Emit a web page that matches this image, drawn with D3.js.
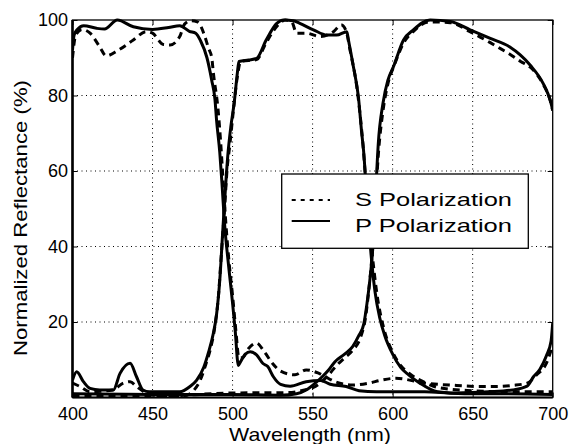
<!DOCTYPE html>
<html>
<head>
<meta charset="utf-8">
<script src="https://cdn.jsdelivr.net/npm/d3@7"></script>
<style>
  html, body { margin: 0; padding: 0; background: #fff; }
  svg { display: block; font-family: "Liberation Sans", Arial, Helvetica, sans-serif; }
</style>
</head>
<body>
<div id="chart"></div>
<script>
/* Reflectance of three bands (blue / green / red), S and P polarization.
   Values as [wavelength nm, reflectance %]. */
const xTicks = [400, 450, 500, 550, 600, 650, 700];
const yTicks = [20, 40, 60, 80, 100];

const blueP = [[400,92],[401,96],[403,97.5],[407,98.5],[415,97.8],[420,97.6],[428,100],[438,98.2],[450,97.5],[460,98],[467,98.5],[473,97],[477,96.5],[480,94.5],[484,90],[487,84],[489,79],[490,73.5],[492,65],[493.5,56],[495,46],[497,37],[498.5,31],[500,25],[501.6,18],[503.6,8.5],[505,9.5],[508,11.5],[511,12.1],[515,11.3],[519,9],[522,8.2],[525.5,5.5],[530,3.5],[536,3],[546,4.2],[555,4.5],[561,3.5],[571,2.9],[579,1.8],[590,1.5],[602,1.5],[620,1.5],[640,1.2],[660,1.5],[675,2],[684,3],[688,5.5],[692,7.5],[696,11],[699,15],[700,19.7]];
const blueS = [[400,90],[402,96],[406,97.5],[411,96.5],[417,92.9],[421,90.5],[428.6,92],[438,94.7],[446,96.9],[450,96.5],[456.8,93.5],[461,93.4],[467,95.6],[470,98.9],[474,99.8],[478,99.5],[480,98.5],[482,96.5],[485,92.5],[487,90],[488,86],[491,76],[492.5,68],[494,58],[496,45],[498,35],[500,27],[502,18],[504,10.5],[506,10.5],[510,13],[515,14.4],[520,12],[525,9],[530,7],[539,6],[546,7.3],[554,6.4],[564,4.2],[575,3.3],[585,3.8],[593,4.6],[602,5.1],[620,3.8],[640,3.2],[655,2.9],[665,2.9],[675,3.2],[684,3.8],[690,6],[696.5,9.5],[700,14]];
const greenP = [[400,4.6],[402.6,6.8],[406.8,4.2],[411,2.4],[417,2],[425.5,2],[429.7,6.4],[436,9.1],[440,5.5],[444,2],[448,1.5],[467,1.5],[473.4,2.9],[477.6,4.6],[482,8],[485,12],[488,17],[490,22],[492,31],[494,45],[495.5,55],[497,64],[499,72],[501,78],[503,86],[504,89],[510,89.4],[515,89.8],[521,94.7],[527.6,99.1],[532,100],[538,99.8],[542,99.1],[550.5,97.4],[559,96],[565,96],[571.4,96.9],[572.4,94.7],[575.5,87.6],[578.6,79.7],[580.7,70],[581.8,65.6],[584,52],[586.5,38],[589,28],[592,21],[595,16.5],[600,11.5],[605,8],[610,6],[617,3.8],[628,1.5],[645,1],[670,1],[700,0.8]];
const greenS = [[400,3.8],[404.7,2.9],[411,1.5],[425,2],[431.8,3.8],[436,4.2],[440,2.9],[446.7,1.1],[455,0.5],[470,0.5],[476,2],[480.7,5.5],[483.8,9.5],[486,12.6],[489,19],[491,26],[493,38],[495,50],[496.5,60],[498.4,67.3],[500.5,76],[503,85],[505,89],[515,89.5],[521,94],[528,98.5],[533,100],[537,99.5],[540,96.5],[546,96.5],[554.7,95.6],[563,96.9],[568,98.7],[571,97],[573.4,92],[577.6,82.3],[581.4,67.3],[584,53],[587,39],[590,28],[595,17.5],[600,12],[605,8.5],[610,6.5],[620,4],[630,2.5],[650,1.8],[675,1.5],[700,1.5]];
const redP = [[400,1],[450,0.8],[500,0.8],[530,0.6],[540,1],[546,2],[551.6,3.8],[556,5.5],[560,7.3],[564,9.5],[570,11.5],[575,13.5],[579,16.5],[582,19.5],[584,25],[586,32],[588,42],[589.5,55],[591,67],[594,78],[597,84],[600.5,87.6],[606.8,94.7],[613,97.4],[623.4,100],[636,99.6],[648.4,97.4],[661,95.1],[673,92.9],[686,88],[694,83.2],[698.4,78.8],[700,76.2]];
const redS = [[400,0.5],[450,0.3],[500,1.2],[535,1.3],[545,2],[552,3],[560,6],[565,8.5],[570,10.5],[575,12.5],[580,16],[583,21],[585,28],[587,37],[589,50],[591,64],[594,76],[597,83],[601,88],[607,94],[613,97],[623,99.5],[636,99.3],[648,97],[661,94],[665,93],[673,91],[680,89],[686,87.5],[694,83],[698.4,78.8],[700,76]];

const legendLabels = ["S Polarization", "P Polarization"];

function drawChart() {
  const fullW = 571, fullH = 444;
  const margin = { top: 20, right: 18.3, bottom: 46.5, left: 72.5 };
  const w = fullW - margin.left - margin.right;
  const h = fullH - margin.top - margin.bottom;

  const svg = d3.select("#chart").append("svg")
    .attr("width", fullW).attr("height", fullH);

  const g = svg.append("g")
    .attr("transform", `translate(${margin.left},${margin.top})`);

  /* Scales */
  const x = d3.scaleLinear().domain([400, 700]).range([0, w]);
  const y = d3.scaleLinear().domain([0, 100]).range([h, 0]);

  /* Dotted grid */
  g.append("g").selectAll("line")
    .data(xTicks.slice(1, -1))
    .join("line")
      .attr("x1", d => x(d)).attr("x2", d => x(d))
      .attr("y1", 0).attr("y2", h)
      .attr("stroke", "#000").attr("stroke-width", 1)
      .attr("stroke-dasharray", "1,3.5");
  g.append("g").selectAll("line")
    .data(yTicks.slice(0, -1))
    .join("line")
      .attr("x1", 0).attr("x2", w)
      .attr("y1", d => y(d)).attr("y2", d => y(d))
      .attr("stroke", "#000").attr("stroke-width", 1)
      .attr("stroke-dasharray", "1,3.5");

  /* Curves */
  g.append("clipPath").attr("id", "plot-clip")
    .append("rect").attr("x", 0).attr("y", -2).attr("width", w).attr("height", h + 2);

  const line = d3.line()
    .x(d => x(d[0]))
    .y(d => y(d[1]))
    .curve(d3.curveMonotoneX);

  const series = [
    { data: redS, dash: "7,5" },
    { data: greenS, dash: "7,5" },
    { data: blueS, dash: "7,5" },
    { data: redP, dash: null },
    { data: greenP, dash: null },
    { data: blueP, dash: null }
  ];

  const curves = g.append("g").attr("clip-path", "url(#plot-clip)");
  series.forEach(s => {
    curves.append("path")
      .datum(s.data)
      .attr("fill", "none")
      .attr("stroke", "#000")
      .attr("stroke-width", 3)
      .attr("stroke-linejoin", "round")
      .attr("stroke-dasharray", s.dash)
      .attr("d", line);
  });

  /* Axes (MATLAB style: inward ticks on all four sides) */
  const styleAxis = sel => {
    sel.select(".domain").remove();
    sel.selectAll("line").attr("stroke", "#000").attr("stroke-width", 1);
    sel.selectAll("text")
      .attr("fill", "#000")
      .style("font-size", "18px");
  };

  g.append("g")
    .attr("transform", `translate(0,${h})`)
    .call(d3.axisBottom(x).tickValues(xTicks).tickSize(-5).tickPadding(9.5))
    .call(styleAxis);

  g.append("g")
    .call(d3.axisLeft(y).tickValues(yTicks).tickSize(-5).tickPadding(4.5))
    .call(styleAxis);

  g.append("g")
    .call(d3.axisTop(x).tickValues(xTicks).tickSize(-5).tickFormat(""))
    .call(styleAxis);

  g.append("g")
    .attr("transform", `translate(${w},0)`)
    .call(d3.axisRight(y).tickValues(yTicks).tickSize(-5).tickFormat(""))
    .call(styleAxis);

  /* Frame */
  g.append("rect")
    .attr("width", w).attr("height", h)
    .attr("fill", "none").attr("stroke", "#000").attr("stroke-width", 1.3);
  g.append("line")
    .attr("x1", 0).attr("x2", 0).attr("y1", 0).attr("y2", h)
    .attr("stroke", "#000").attr("stroke-width", 2.6);
  g.append("line")
    .attr("x1", 0).attr("x2", w).attr("y1", h).attr("y2", h)
    .attr("stroke", "#000").attr("stroke-width", 2.2);

  /* Axis labels */
  svg.append("text")
    .attr("x", 310).attr("y", 440.5)
    .attr("text-anchor", "middle")
    .attr("textLength", 162).attr("lengthAdjust", "spacingAndGlyphs")
    .style("font-size", "19px")
    .text("Wavelength (nm)");

  svg.append("text")
    .attr("transform", "translate(27,218) rotate(-90)")
    .attr("text-anchor", "middle")
    .attr("textLength", 276).attr("lengthAdjust", "spacingAndGlyphs")
    .style("font-size", "19px")
    .text("Normalized Reflectance (%)");

  /* Legend */
  const lg = svg.append("g");
  lg.append("rect")
    .attr("x", 281.7).attr("y", 174)
    .attr("width", 246.6).attr("height", 74.3)
    .attr("fill", "#fff").attr("stroke", "#000").attr("stroke-width", 1.3);

  const items = [
    { label: legendLabels[0], dash: "4,5", yy: 200, ty: 205.5 },
    { label: legendLabels[1], dash: null, yy: 221, ty: 231.5 }
  ];
  items.forEach(it => {
    lg.append("line")
      .attr("x1", 291.7).attr("x2", 330)
      .attr("y1", it.yy).attr("y2", it.yy)
      .attr("stroke", "#000").attr("stroke-width", 2)
      .attr("stroke-dasharray", it.dash);
    lg.append("text")
      .attr("x", 355).attr("y", it.ty)
      .attr("textLength", 157).attr("lengthAdjust", "spacingAndGlyphs")
      .style("font-size", "19px")
      .text(it.label);
  });
}

drawChart();
</script>
</body>
</html>
